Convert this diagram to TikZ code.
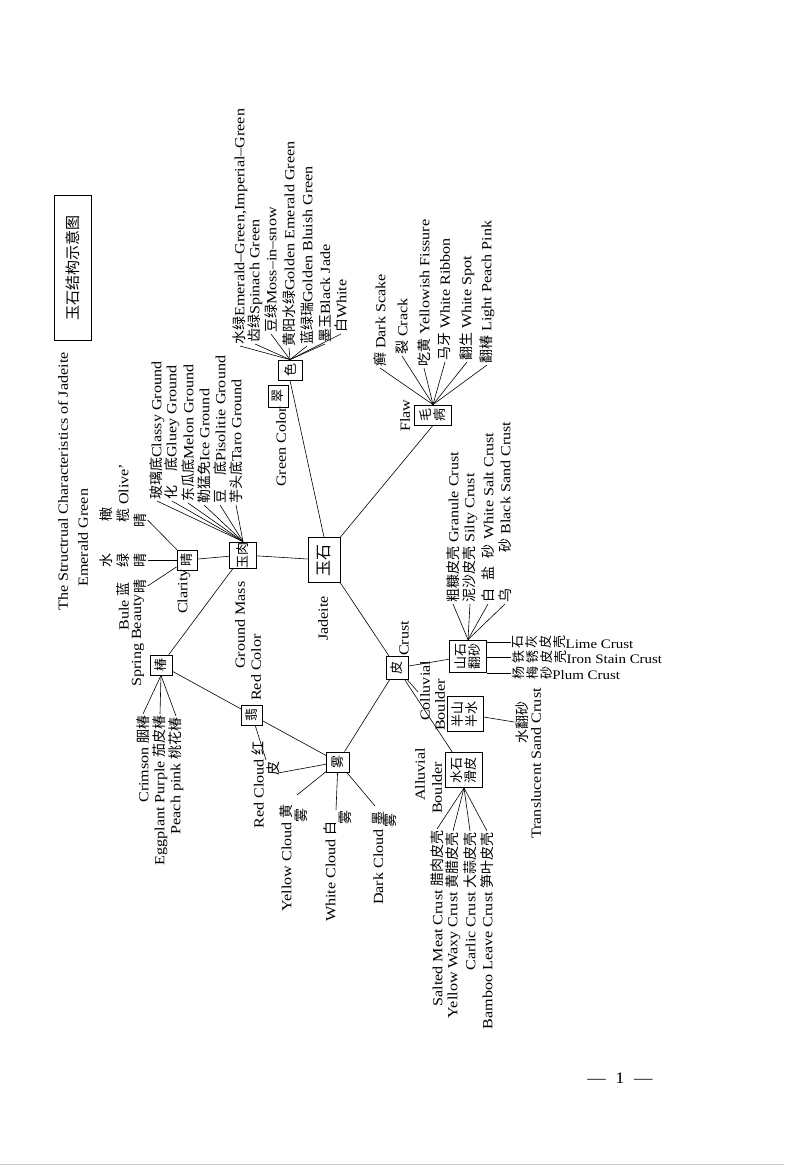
\documentclass[tikz,border=0pt]{standalone}
\usepackage{fontspec}
\setmainfont[FakeStretch=1.15]{Liberation Serif}
\newfontfamily\cjk{Noto Sans CJK SC}
\newcommand\C[1]{{\cjk #1}}
\newcommand\rc[1]{\rotatebox{90}{\cjk #1}}
\begin{document}
\begin{tikzpicture}[x=1pt,y=-1pt,
 lbl/.style={rotate=90,inner sep=1pt,font=\fontsize{14}{15}\selectfont},
 hl/.style={inner sep=1pt,font=\fontsize{13}{14}\selectfont},
 bx/.style={draw,line width=0.8pt,rotate=90,inner sep=0pt,align=center,font=\cjk\fontsize{13}{14}\selectfont},
 ln/.style={line width=0.6pt}]
\useasboundingbox (0,0) rectangle (784,1169);
\fill[white] (0,0) rectangle (784,1169);
\draw[gray!40,line width=1pt] (0,1164) -- (784,1164);
% title
\node[bx,minimum width=145pt,minimum height=37pt,font=\cjk\fontsize{15}{16}\selectfont] (title) at (73,268) {玉石结构示意图};
\node[lbl,anchor=west] (stt) at (63,612) {The Structrual Characteristics of Jadeite};
\node[lbl,anchor=west] (emg) at (83,588) {Emerald Green};
% boxes
\node[bx,minimum width=45pt,minimum height=32pt,font=\cjk\fontsize{16}{17}\selectfont] (ys) at (324,560) {玉石};
\node[bx,minimum width=25pt,minimum height=27pt] (yr) at (243,555) {玉肉};
\node[bx,minimum width=20pt,minimum height=20pt] (qing) at (187,560) {晴};
\node[bx,minimum width=22pt,minimum height=20pt] (cui) at (278,396) {翠};
\node[bx,minimum width=20pt,minimum height=24pt] (se) at (290,370) {色};
\node[bx,minimum width=20pt,minimum height=37pt] (mb) at (433,415) {毛\\病};
\node[bx,minimum width=20pt,minimum height=22pt] (chun) at (161,665) {椿};
\node[bx,minimum width=20pt,minimum height=21pt] (fei) at (252,715) {翡};
\node[bx,minimum width=20pt,minimum height=23pt] (wu) at (338,762) {雾};
\node[bx,minimum width=23pt,minimum height=22pt] (pi) at (397,668) {皮};
\node[bx,minimum width=32pt,minimum height=37pt] (ssfs) at (468,656) {山石\\翻砂};
\node[bx,minimum width=35pt,minimum height=36pt] (bsbs) at (465,714) {半山\\半水};
\node[bx,minimum width=35pt,minimum height=37pt] (sshp) at (464,770) {水石\\滑皮};
% box labels
\node[lbl,anchor=west] (jad) at (323,642) {Jadeite};
\node[lbl,anchor=west] (gm) at (240,670) {Ground Mass};
\node[lbl,anchor=west] (cla) at (184,615) {Clarity};
\node[lbl,anchor=west] (sb) at (138,688) {Spring Beauty};
\node[lbl,anchor=west] (rcl) at (256,702) {Red Color};
\node[lbl,anchor=west] (gc) at (281,488) {Green Color};
\node[lbl,anchor=west] (flaw) at (405,433) {Flaw};
\node[lbl,anchor=west] (crust) at (404,657) {Crust};
\node[lbl,anchor=west] (col) at (425,722) {Colluvial};
\node[lbl,anchor=west] (colb) at (440,732) {Boulder};
\node[lbl,anchor=west] (all) at (420,802) {Alluvial};
\node[lbl,anchor=west] (allb) at (437,815) {Boulder};
% main connectors
\draw[ln] (ys) -- (yr);
\draw[ln] (yr) -- (qing);
\draw[ln] (ys.east) -- (se.west);
\draw[ln] (ys.south east) -- (mb.west);
\draw[ln] (ys.south west) -- (pi);
\draw[ln] (yr) -- (chun);
\draw[ln] (chun) -- (fei);
\draw[ln] (fei) -- (wu);
\draw[ln] (wu) -- (pi);
\draw[ln] (pi) -- (ssfs);
\draw[ln] (pi) -- (sshp);
\coordinate (stub) at (418,692);
\draw[ln] (pi) -- (stub);
% clarity leaves
\node[lbl] (q1) at (106,560) {\C{水}};
\node[lbl] (q2) at (123,560) {\C{绿}};
\node[lbl] (q3) at (140,560) {\C{晴}};
\node[lbl,anchor=east] (b1) at (123,581) {Bule \C{蓝}};
\node[lbl] (b2) at (140,586) {\C{晴}};
\node[lbl] (o1) at (106,514) {\C{橄}};
\node[lbl,anchor=west] (o2) at (123,524) {\C{榄} Olive'};
\node[lbl] (o3) at (140,520) {\C{晴}};
\draw[ln] (qing) -- (o3.south);
\draw[ln] (qing) -- (q3.south);
\draw[ln] (qing) -- (b2.south);
% ground leaves
\node[lbl,anchor=west] (g1) at (157,501) {\C{玻璃底}Classy Ground};
\node[lbl,anchor=west] (g2) at (172,501) {\C{化\hspace{1em}底}Gluey Ground};
\node[lbl,anchor=west] (g3) at (188,503) {\C{东瓜底}Melon Ground};
\node[lbl,anchor=west] (g4) at (204,505) {\C{勒猛免}Ice Ground};
\node[lbl,anchor=west] (g5) at (220,505) {\C{豆\hspace{1em}底}Pisolitie Ground};
\node[lbl,anchor=west] (g6) at (236,505) {\C{芋头底}Taro Ground};
\foreach \g in {g1,g2,g3,g4,g5,g6} \draw[ln] (yr.east) -- (\g.west);
% color leaves
\node[lbl,anchor=west] (c1) at (240,346) {\C{水绿}Emerald–Green,Imperial–Green};
\node[lbl,anchor=west] (c2) at (255,344) {\C{齿绿}Spinach Green};
\node[lbl,anchor=west] (c3) at (271,334) {\C{豆绿}Moss–in–snow};
\node[lbl,anchor=west] (c4) at (289,348) {\C{黄阳水绿}Golden Emerald Green};
\node[lbl,anchor=west] (c5) at (307,346) {\C{蓝绿瑞}Golden Bluish Green};
\node[lbl,anchor=west] (c6) at (325,344) {\C{墨玉}Black Jade};
\node[lbl,anchor=west] (c7) at (341,334) {\C{白}White};
\foreach \c in {c1,c2,c3,c4,c5,c6,c7} \draw[ln] (se.east) -- (\c.west);
% flaw leaves
\node[lbl,anchor=west] (f1) at (380,368) {\C{癣} Dark Scake};
\node[lbl,anchor=west] (f2) at (402,356) {\C{裂} Crack};
\node[lbl,anchor=west] (f3) at (424,368) {\C{吃黄} Yellowish Fissure};
\node[lbl,anchor=west] (f4) at (445,362) {\C{马牙} White Ribbon};
\node[lbl,anchor=west] (f5) at (467,362) {\C{翻生} White Spot};
\node[lbl,anchor=west] (f6) at (487,365) {\C{翻椿} Light Peach Pink};
\foreach \f in {f1,f2,f3,f4,f5,f6} \draw[ln] (mb.east) -- (\f.west);
% spring beauty leaves
\node[lbl,anchor=east] (h1) at (143,714) {Crimson \C{胭椿}};
\node[lbl,anchor=east] (h2) at (160,714) {Eggplant Purple \C{茄皮椿}};
\node[lbl,anchor=east] (h3) at (176,716) {Peach pink \C{桃花椿}};
\foreach \h in {h1,h2,h3} \draw[ln] (chun.west) -- (\h.east);
% clouds
\node[lbl,anchor=east] (rc1) at (258,740) {Red Cloud \C{红}};
\node[lbl] (rc2) at (273,768) {\C{皮}};
\coordinate (rcA) at (266,760);
\coordinate (rcB) at (278,773);
\draw[ln] (fei) -- (rcA);
\draw[ln] (wu) -- (rcB);
\node[lbl,anchor=east] (yc1) at (286,803) {Yellow Cloud \C{黄}};
\node[lbl] (yc2) at (301,815) {\C{雾}};
\coordinate (ycA) at (297,795);
\draw[ln] (wu) -- (ycA);
\node[lbl,anchor=east] (wc1) at (330,820) {White Cloud \C{白}};
\node[lbl] (wc2) at (345,817) {\C{雾}};
\coordinate (wcA) at (336,810);
\draw[ln] (wu) -- (wcA);
\node[lbl,anchor=east] (dc1) at (378,810) {Dark Cloud \C{墨}};
\node[lbl] (dc2) at (390,820) {\C{雾}};
\coordinate (dcA) at (375,806);
\draw[ln] (wu) -- (dcA);
% shanshi fansha top leaves
\node[lbl,anchor=west] (s1) at (453,604) {\C{粗糠皮壳} Granule Crust};
\node[lbl,anchor=west] (s2) at (470,604) {\C{泥沙皮壳} Silty Crust};
\node[lbl,anchor=west] (s3) at (488,604) {\C{白\hspace{0.6em}盐\hspace{0.6em}砂} White Salt Crust};
\node[lbl,anchor=west] (s4) at (505,604) {\C{乌\hspace{2.6em}砂} Black Sand Crust};
\foreach \s in {s1,s2,s3,s4} \draw[ln] (ssfs.east) -- (\s.west);
% right rows
\node[hl,anchor=west] (r1) at (511,642) {\rc{石}\,\rc{灰}\,\rc{皮}\,\rc{壳}Lime Crust};
\node[hl,anchor=west] (r2) at (511,657) {\rc{铁}\,\rc{锈}\,\rc{皮}\,\rc{壳}Iron Stain Crust};
\node[hl,anchor=west] (r3) at (511,673) {\rc{杨}\,\rc{梅}\,\rc{砂}Plum Crust};
\draw[ln] (ssfs.south east |- r1.west) -- (r1.west);
\draw[ln] (ssfs.south |- r2.west) -- (r2.west);
\draw[ln] (ssfs.south west |- r3.west) -- (r3.west);
% banshan banshui
\node[lbl] (sfs) at (522,722) {\C{水翻砂}};
\node[lbl,anchor=west] (tsc) at (536,840) {Translucent Sand Crust};
\draw[ln] (bsbs) -- (sfs.north);
% shuishi huapi leaves
\node[lbl,anchor=east] (a1) at (437,829) {Salted Meat Crust \C{腊肉皮壳}};
\node[lbl,anchor=east] (a2) at (453,831) {Yellow Waxy Crust \C{黄腊皮壳}};
\node[lbl,anchor=east] (a3) at (470,831) {Carlic Crust \C{大蒜皮壳}};
\node[lbl,anchor=east] (a4) at (487,831) {Bamboo Leave Crust \C{笋叶皮壳}};
\foreach \a in {a1,a2,a3,a4} \draw[ln] (sshp.west) -- (\a.east);
% page number
\node[hl,font=\fontsize{16}{17}\selectfont] (pg) at (620,1078) {—\hspace{0.6em}1\hspace{0.6em}—};
\end{tikzpicture}
\end{document}
